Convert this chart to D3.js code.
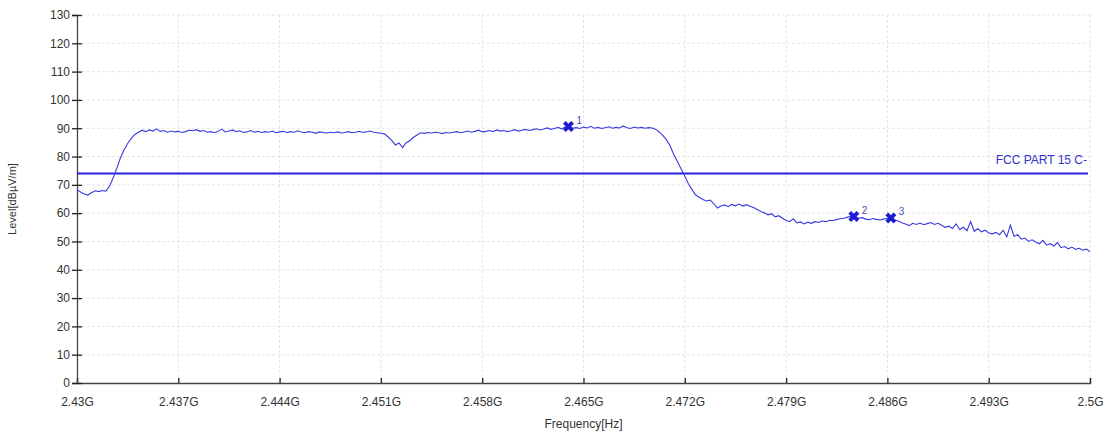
<!DOCTYPE html>
<html>
<head>
<meta charset="utf-8">
<script src="https://cdn.jsdelivr.net/npm/d3@7"></script>
<style>
  body { margin: 0; background: #fff; }
  svg text { font-family: "Liberation Sans", Arial, sans-serif; }
</style>
</head>
<body>
<div id="chart"></div>
<script>
// sweep: start frequency (GHz) and step between points
var freqStart = 2.43;
var freqStep = 0.00025;

// measured level, dBuV/m, one value per sweep point
var levels = [
  68.3, 67.5, 66.8, 66.4, 67.2, 67.9, 67.6, 68.0, 67.8, 69.5,
  72.5, 75.8, 79.5, 82.3, 84.6, 86.4, 87.8, 88.6, 89.3, 88.8,
  89.4, 89.0, 89.8, 88.9, 89.2, 88.6, 89.0, 88.7, 88.9, 88.5,
  88.8, 89.3, 89.1, 89.5, 88.9, 89.2, 88.6, 88.8, 88.4, 88.9,
  89.7, 88.7, 89.0, 89.4, 88.8, 89.1, 88.5, 88.7, 89.2, 88.6,
  88.9, 88.5, 88.8, 88.6, 89.0, 88.4, 88.7, 88.9, 88.5, 88.8,
  88.6, 89.1, 88.7, 88.4, 88.8, 88.6, 88.2, 88.7, 88.5, 88.3,
  88.6, 88.4, 88.7, 88.3, 88.5, 88.8, 88.4, 88.6, 88.9, 88.5,
  88.7, 89.0, 88.6, 88.4, 88.2, 88.0, 86.9, 85.7, 84.1, 84.8,
  83.2, 84.9, 85.6, 86.8, 87.6, 88.4, 88.2, 88.5, 88.3, 88.6,
  88.4, 88.1, 88.5, 88.3, 88.6, 88.8, 88.4, 88.7, 89.0, 88.6,
  88.9, 89.3, 88.7, 88.9, 89.2, 88.8, 89.4, 89.0, 89.2, 88.8,
  89.1, 89.5, 89.0, 89.3, 89.6, 89.2, 89.5, 89.8, 89.4, 89.7,
  90.1, 89.6, 89.9, 90.3, 89.8, 90.4, 90.6, 90.0, 90.2, 89.9,
  90.4, 90.1, 90.7, 90.0, 90.3, 89.9, 90.2, 90.5, 90.0, 90.3,
  90.1, 90.8, 90.2, 89.9, 90.4, 90.1, 90.3, 90.0, 90.2, 90.1,
  89.6, 88.6, 87.4, 85.8, 83.6, 80.5, 78.2, 75.6, 73.0, 70.4,
  68.3, 66.4, 65.6, 64.8, 64.3, 64.6, 63.4, 61.8, 62.5, 62.9,
  62.3, 63.1, 62.6, 63.2, 62.5, 63.0, 62.4, 62.0, 61.3, 60.6,
  60.1, 59.4, 59.8, 58.7, 59.1, 58.2, 57.5, 57.0, 58.0, 56.6,
  56.9, 56.2, 56.8, 56.4, 57.0, 56.7, 57.2, 57.0, 57.5, 57.3,
  57.8, 58.0, 58.2, 58.6, 58.9, 58.7, 58.2, 58.4, 57.9, 57.7,
  58.1, 57.8, 57.6, 57.9, 58.2, 58.3, 57.6, 57.2, 56.6, 56.2,
  55.6, 56.4, 56.0, 56.5, 55.9, 56.3, 56.7, 56.0, 56.4, 55.7,
  55.0, 55.4, 54.6, 56.2, 54.2, 55.0, 53.8, 57.0, 53.6, 54.5,
  53.4, 54.0, 53.0, 52.7, 53.2, 52.4, 54.0, 51.6, 55.8, 51.8,
  52.5, 50.8, 51.2, 50.0, 50.6, 49.8, 49.2, 50.4, 48.7, 49.2,
  48.4, 49.6, 47.8, 48.2, 47.4, 48.0, 47.2, 47.6, 46.9, 47.3, 46.4
];

// limit line
var limitLevel = 74;
var limitName = "FCC PART 15 C-";

// markers
var markerFreqs = [2.46396, 2.48368, 2.48624];
var markerLevels = [90.6, 58.8, 58.3];
var markerNames = ["1", "2", "3"];

// axis ticks
var xTicks = [2.43, 2.437, 2.444, 2.451, 2.458, 2.465, 2.472, 2.479, 2.486, 2.493, 2.5];
var xTickLabels = ["2.43G", "2.437G", "2.444G", "2.451G", "2.458G", "2.465G", "2.472G", "2.479G", "2.486G", "2.493G", "2.5G"];
var yTicks = [0, 10, 20, 30, 40, 50, 60, 70, 80, 90, 100, 110, 120, 130];

var svgWidth = 1108;
var svgHeight = 437;
var margin = { top: 15, right: 18, bottom: 54, left: 77 };
var width = svgWidth - margin.left - margin.right;
var height = svgHeight - margin.top - margin.bottom;

var trace = levels.map(function(v, i) {
    return { f: freqStart + i * freqStep, v: v };
});

var svg = d3.select("#chart")
    .append("svg")
    .attr("width", svgWidth)
    .attr("height", svgHeight);

var chartGroup = svg.append("g")
    .attr("transform", `translate(${margin.left}, ${margin.top})`);

var x = d3.scaleLinear().domain([2.43, 2.5]).range([0, width]);
var y = d3.scaleLinear().domain([0, 130]).range([height, 0]);

// grid
chartGroup.append("g")
    .selectAll("line")
    .data(yTicks.slice(1))
    .enter()
    .append("line")
    .attr("x1", 0).attr("x2", width)
    .attr("y1", d => y(d)).attr("y2", d => y(d))
    .attr("stroke", "#e4e4e4")
    .attr("stroke-dasharray", "3,2");

chartGroup.append("g")
    .selectAll("line")
    .data(xTicks.slice(1))
    .enter()
    .append("line")
    .attr("x1", d => x(d)).attr("x2", d => x(d))
    .attr("y1", 0).attr("y2", height)
    .attr("stroke", "#e4e4e4")
    .attr("stroke-dasharray", "3,2");

// axes
var bottomAxis = d3.axisBottom(x)
    .tickValues(xTicks)
    .tickFormat((d, i) => xTickLabels[i])
    .tickSize(-5)
    .tickPadding(14);

var leftAxis = d3.axisLeft(y)
    .tickValues(yTicks)
    .tickSize(5)
    .tickPadding(3);

var gx = chartGroup.append("g")
    .attr("transform", `translate(0, ${height})`)
    .call(bottomAxis);

var gy = chartGroup.append("g")
    .call(leftAxis);

// y ticks cross the axis line
gy.selectAll(".tick line").attr("x2", 5).attr("x1", -5);

[gx, gy].forEach(function(g) {
    g.select(".domain").attr("stroke", "#444").attr("stroke-width", 1.3);
    g.selectAll(".tick line").attr("stroke", "#222").attr("stroke-width", 1.3);
    g.selectAll(".tick text")
        .attr("fill", "#333")
        .style("font-size", "12px")
        .style("font-family", "'Liberation Sans', Arial, sans-serif");
});
gy.selectAll(".tick text").attr("x", -7);

// limit line
chartGroup.append("line")
    .attr("x1", 0).attr("x2", width - 2)
    .attr("y1", y(limitLevel)).attr("y2", y(limitLevel))
    .attr("stroke", "#2424d8")
    .attr("stroke-width", 2);

chartGroup.append("text")
    .attr("x", width - 3)
    .attr("y", y(limitLevel) - 10)
    .attr("text-anchor", "end")
    .attr("fill", "#3232c8")
    .style("font-size", "12px")
    .text(limitName);

// trace
var line = d3.line()
    .x(d => x(d.f))
    .y(d => y(d.v));

chartGroup.append("path")
    .datum(trace)
    .attr("fill", "none")
    .attr("stroke", "#3a3ae0")
    .attr("stroke-width", 1.1)
    .attr("d", line);

// markers
var markers = markerFreqs.map(function(f, i) {
    return { f: f, v: markerLevels[i], name: markerNames[i] };
});

var markerSymbol = d3.symbol().type(d3.symbolCross).size(75);

chartGroup.append("g")
    .selectAll("path")
    .data(markers)
    .enter()
    .append("path")
    .attr("d", markerSymbol)
    .attr("transform", d => `translate(${x(d.f)}, ${y(d.v)}) rotate(45)`)
    .attr("fill", "#1c1cd0");

chartGroup.append("g")
    .selectAll("text")
    .data(markers)
    .enter()
    .append("text")
    .attr("x", d => x(d.f) + 8)
    .attr("y", d => y(d.v) - 3)
    .attr("fill", "#4a4ac0")
    .style("font-size", "10px")
    .text(d => d.name);

// axis labels
svg.append("text")
    .attr("transform", `translate(16, ${margin.top + height / 2}) rotate(-90)`)
    .attr("text-anchor", "middle")
    .attr("fill", "#333")
    .style("font-size", "11px")
    .text("Level[dBµV/m]");

svg.append("text")
    .attr("x", margin.left + width / 2)
    .attr("y", 428)
    .attr("text-anchor", "middle")
    .attr("fill", "#333")
    .style("font-size", "12px")
    .text("Frequency[Hz]");
</script>
</body>
</html>
